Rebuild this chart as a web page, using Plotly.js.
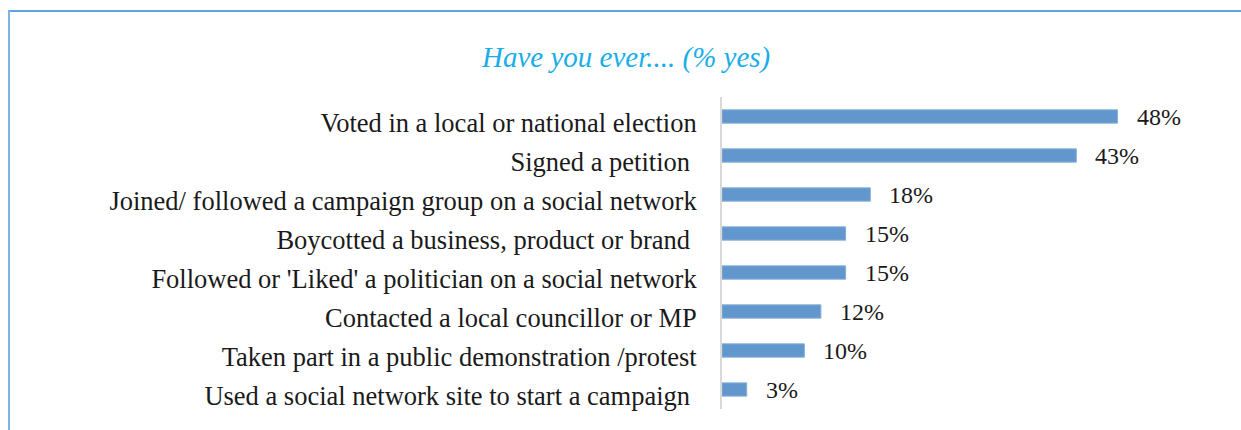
<!DOCTYPE html>
<html>
<head>
<meta charset="utf-8">
<script src="https://cdn.plot.ly/plotly-3.0.1.min.js"></script>
<style>
  html, body { margin: 0; padding: 0; background: #ffffff; }
  #wrap { position: relative; width: 1241px; height: 430px; overflow: hidden; }
  #chart { position: absolute; left: 0; top: 0; width: 1241px; height: 430px; }
  #frameTop { position: absolute; left: 8px; top: 10px; width: 1233px; height: 2px; background: #5ea3e2; }
  #frameLeft { position: absolute; left: 8px; top: 10px; width: 2px; height: 420px; background: #7fb3e8; }
</style>
</head>
<body>
<div id="wrap">
  <div id="chart"></div>
  <div id="frameTop"></div>
  <div id="frameLeft"></div>
</div>
<script>
const categories = [
  "Voted in a local or national election",
  "Signed a petition\u00a0",
  "Joined/ followed a campaign group on a social network",
  "Boycotted a business, product or brand\u00a0",
  "Followed or 'Liked' a politician on a social network",
  "Contacted a local councillor or MP",
  "Taken part in a public demonstration /protest",
  "Used a social network site to start a campaign\u00a0"
];
const values = [48, 43, 18, 15, 15, 12, 10, 3];
const valueLabels = values.map(v => v + "%");
const chartTitle = "Have you ever.... (% yes)";

const serif = "'Liberation Serif'";

const trace = {
  type: "bar",
  orientation: "h",
  x: values,
  y: categories,
  marker: { color: "#6197cc", line: { color: "#86b0da", width: 1 } },
  width: 0.34,
  hoverinfo: "none"
};

const annotations = values.map((v, i) => ({
  x: v, y: categories[i], xref: "x", yref: "y",
  text: valueLabels[i], showarrow: false,
  xanchor: "left", yanchor: "middle", xshift: 17, yshift: 0,
  font: { family: serif, size: 24, color: "#1a1a1a" }
}));

annotations.push({
  xref: "paper", yref: "paper",
  x: (625 - 722) / 412, y: (409 - 57) / 312,
  text: "<i>" + chartTitle + "</i>", showarrow: false,
  xanchor: "center", yanchor: "middle",
  font: { family: serif, size: 29, color: "#1aaee8" }
});

const layout = {
  width: 1241, height: 430,
  margin: { l: 722, r: 107, t: 97, b: 21, pad: 0 },
  paper_bgcolor: "#ffffff", plot_bgcolor: "#ffffff",
  showlegend: false,
  font: { family: serif },
  xaxis: { range: [0, 50], showgrid: false, zeroline: false, showticklabels: false, showline: false, ticks: "" },
  yaxis: {
    autorange: "reversed", showgrid: false, zeroline: false,
    showline: true, linecolor: "#d9d9d9", linewidth: 2,
    ticks: "", ticklabelstandoff: 18, ticklabelshift: -6,
    tickfont: { family: serif, size: 26.5, color: "#1a1a1a" }
  },
  annotations: annotations
};

Plotly.newPlot("chart", [trace], layout, { staticPlot: true, displayModeBar: false });
</script>
</body>
</html>
